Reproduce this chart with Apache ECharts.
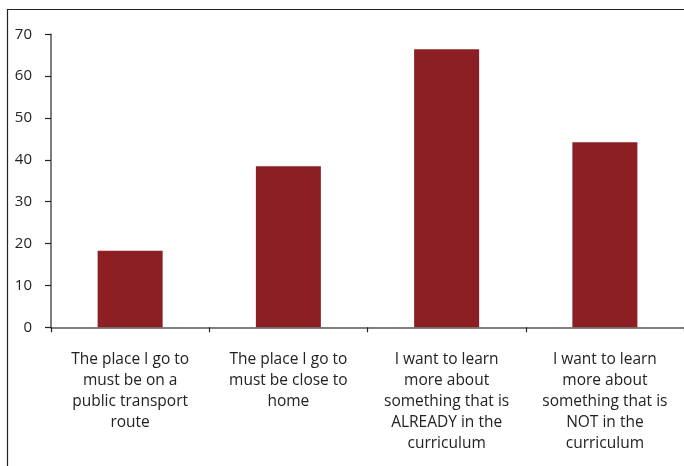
<!DOCTYPE html>
<html>
<head>
<meta charset="utf-8">
<script src="https://cdn.jsdelivr.net/npm/echarts@6/dist/echarts.min.js"></script>
<style>
html,body{margin:0;padding:0;background:#fff;}
#c{width:684px;height:466px;}
</style>
</head>
<body>
<div id="c"></div>
<script>
const categories = [
  "The place I go to\nmust be on a\npublic transport\nroute",
  "The place I go to\nmust be close to\nhome",
  "I want to learn\nmore about\nsomething that is\nALREADY in the\ncurriculum",
  "I want to learn\nmore about\nsomething that is\nNOT in the\ncurriculum"
];
const values = [18.3, 38.5, 66.4, 44.2];
const yTicks = [0, 10, 20, 30, 40, 50, 60, 70];

const chart = echarts.init(document.getElementById('c'), null, {renderer: 'canvas'});
chart.setOption({
  animation: false,
  backgroundColor: '#fff',
  graphic: [{
    type: 'polyline',
    shape: {points: [[7.5, 466], [7.5, 9.5], [684, 9.5]]},
    style: {stroke: '#222', lineWidth: 1.2, fill: null},
    silent: true
  }],
  grid: {left: 51, right: 0, top: 34.3, bottom: 138.7, containLabel: false},
  xAxis: {
    type: 'category',
    data: categories,
    axisLine: {lineStyle: {color: '#555', width: 1.5}},
    axisTick: {show: true, alignWithLabel: false, length: 5, inside: false, lineStyle: {color: '#222', width: 1.2}},
    axisLabel: {
      interval: 0, margin: 22, color: '#222',
      fontFamily: 'Open Sans', fontSize: 15.5, lineHeight: 21, align: 'center'
    },
    splitLine: {show: false}
  },
  yAxis: {
    type: 'value',
    min: yTicks[0], max: yTicks[yTicks.length - 1], interval: 10,
    axisLine: {show: true, lineStyle: {color: '#555', width: 1.5}},
    axisTick: {show: true, length: 6, lineStyle: {color: '#222', width: 1.2}},
    axisLabel: {margin: 19, color: '#222', fontFamily: 'Open Sans', fontSize: 15},
    splitLine: {show: false}
  },
  series: [{
    type: 'bar',
    data: values,
    barWidth: 65,
    itemStyle: {color: '#8B1F24'}
  }]
});
</script>
</body>
</html>
